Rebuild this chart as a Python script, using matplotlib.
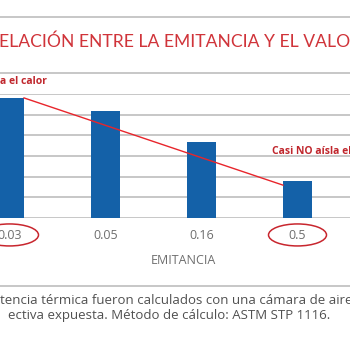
import matplotlib
matplotlib.use('Agg')
import matplotlib.pyplot as plt
from matplotlib.patches import Ellipse
from matplotlib.lines import Line2D

# data (gridline = 1 unit)
emitancia = ['0.03', '0.05', '0.16', '0.5']
valor_r = [5.81, 5.18, 3.68, 1.79]
marcados = [0, 3]   # ticks circled in red

titulo = 'ELACIÓN ENTRE LA EMITANCIA Y EL VALOR'
nota_alta = 'a el calor'
nota_baja = 'Casi NO aísla el'
eje_x = 'EMITANCIA'
pie1 = 'tencia térmica fueron calculados con una cámara de aire'
pie2 = 'ectiva expuesta. Método de cálculo: ASTM STP 1116.'

azul = '#1461a8'
rojo = '#d0343a'
gris = '#bebebe'
texto_gris = '#6e6e6e'

W = H = 350.0
fig = plt.figure(figsize=(3.5, 3.5), dpi=100)

def fx(px):
    return px / W

def fy(py):
    return 1 - py / H

# axes: baseline at y=218 px, top gridline at y=94 px
ax = fig.add_axes([0, fy(218), 1, fy(94) - fy(218)])
step = 96.0
x0 = -9.5 / step
ax.set_xlim(x0, x0 + W / step)
ax.set_ylim(0, 6)
pos = list(range(len(emitancia)))
ancho = 29 / step
ax.bar(pos, valor_r, width=ancho, color=azul, zorder=3)
ax.set_yticks(range(0, 7))
ax.yaxis.grid(True, color=gris, lw=1.2, zorder=0)
for s in ax.spines.values():
    s.set_visible(False)
ax.tick_params(left=False, labelleft=False, bottom=False, labelbottom=False)

for p, lab in zip(pos, emitancia):
    ax.text(p, -0.85, lab, ha='center', va='center', fontsize=9,
            color=texto_gris, family='Open Sans', clip_on=False)
for i in marcados:
    ax.add_patch(Ellipse((pos[i], -0.82), 58 / step, 22 / 20.67, fill=False,
                         ec='#c8262e', lw=1.1, clip_on=False, zorder=4))

ax.plot([pos[0] + ancho / 2, pos[3] - ancho / 2], [valor_r[0], valor_r[3] - 0.2],
        color='#e8252b', lw=1.0, zorder=4, clip_on=False)

for py in [17, 73, 286]:
    fig.add_artist(Line2D([0, 1], [fy(py), fy(py)], color=gris, lw=1.2))

fig.text(fx(-1), fy(42), titulo, ha='left', va='center', fontsize=12.6,
         color=rojo, family='Lato', weight='normal')
fig.text(fx(0), fy(82), nota_alta, ha='left', va='center', fontsize=7.5,
         color='#c0272d', family='Open Sans', weight='bold')
fig.text(fx(272), fy(151), nota_baja, ha='left', va='center', fontsize=7.5,
         color='#c0272d', family='Open Sans', weight='bold')
fig.text(fx(183), fy(261), eje_x, ha='center', va='center', fontsize=9,
         color=texto_gris, family='Open Sans')
fig.text(fx(0), fy(301), pie1, ha='left', va='center', fontsize=9.5,
         color='#505050', family='Open Sans')
fig.text(fx(8), fy(316), pie2, ha='left', va='center', fontsize=9.5,
         color='#505050', family='Open Sans')

fig.savefig('out.png', dpi=100, facecolor='white')
